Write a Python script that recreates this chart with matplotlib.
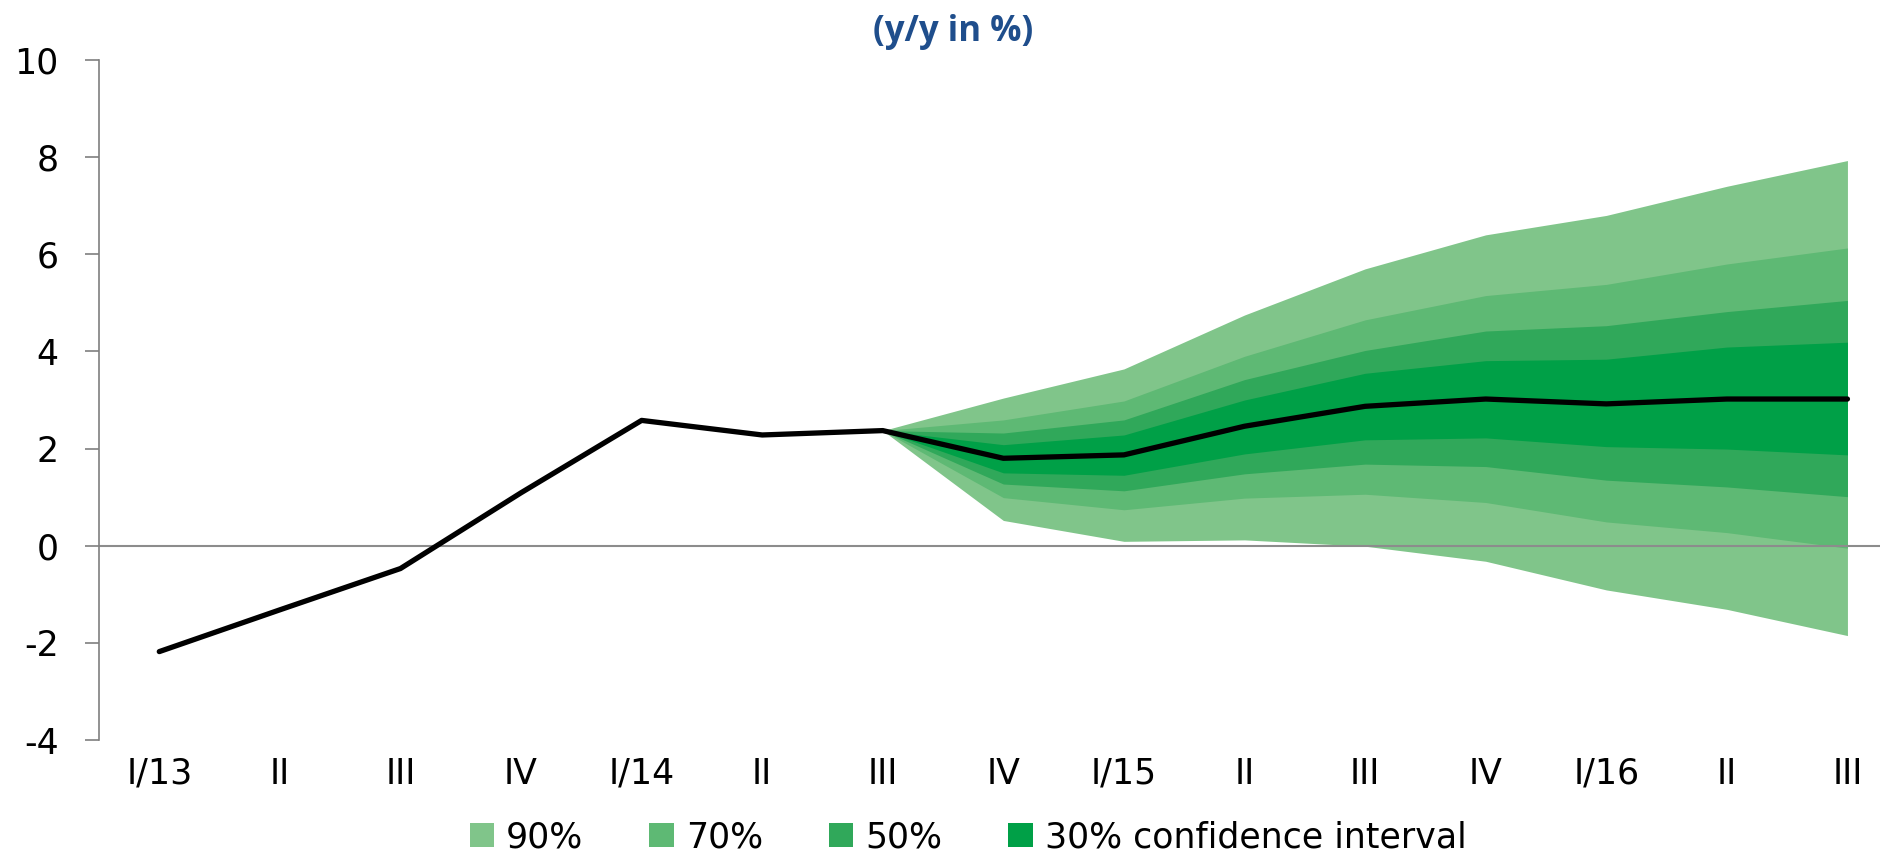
import matplotlib
matplotlib.use('Agg')
import matplotlib.pyplot as plt
import numpy as np
from matplotlib.patches import Patch

plt.rcParams['font.family'] = ['DejaVu Sans']
plt.rcParams['axes.unicode_minus'] = False

# quarters
labels = ['I/13', 'II', 'III', 'IV', 'I/14', 'II', 'III', 'IV',
          'I/15', 'II', 'III', 'IV', 'I/16', 'II', 'III']

# actual + central projection (y/y %)
central = [-2.18, -1.32, -0.47, 1.09, 2.58, 2.28, 2.37, 1.80,
           1.87, 2.46, 2.87, 3.02, 2.92, 3.02, 3.02]

# fan starts at III/14 (index 6)
fan_start = 6
up90 = [2.37, 3.04, 3.64, 4.75, 5.70, 6.40, 6.80, 7.40, 7.93]
up70 = [2.37, 2.59, 2.98, 3.90, 4.65, 5.15, 5.38, 5.80, 6.13]
up50 = [2.37, 2.32, 2.59, 3.42, 4.02, 4.42, 4.53, 4.82, 5.05]
up30 = [2.37, 2.08, 2.28, 3.00, 3.55, 3.81, 3.84, 4.09, 4.19]
lo30 = [2.37, 1.50, 1.45, 1.89, 2.18, 2.22, 2.04, 1.99, 1.87]
lo50 = [2.37, 1.27, 1.13, 1.48, 1.68, 1.63, 1.35, 1.21, 1.01]
lo70 = [2.37, 0.99, 0.74, 0.98, 1.06, 0.89, 0.49, 0.27, -0.05]
lo90 = [2.37, 0.52, 0.09, 0.12, -0.01, -0.32, -0.91, -1.31, -1.85]

band_names = ['90%', '70%', '50%', '30% confidence interval']
band_colors = ['#80C58A', '#5EB974', '#30A85A', '#00A047']

fig = plt.figure(figsize=(18.8, 8.57), dpi=100)
ax = fig.add_axes([99/1880, 1-740/857, 1-99/1880, (740-60)/857])

x = np.arange(len(labels))
xf = x[fan_start:]

bands = [(lo90, up90), (lo70, up70), (lo50, up50), (lo30, up30)]
for (lo, up), c in zip(bands, band_colors):
    ax.fill_between(xf, lo, up, color=c, linewidth=0, zorder=1)

ax.axhline(0, color='#8c8c8c', linewidth=1.5, zorder=2)
ax.plot(x, central, color='black', linewidth=3.8, solid_capstyle='round', zorder=3)

ax.set_xlim(-0.5, 14.27)
ax.set_ylim(-4, 10)
ax.set_yticks(np.arange(-4, 11, 2))
ax.set_xticks(x)
ax.set_xticklabels(labels)

for s in ['top', 'right', 'bottom']:
    ax.spines[s].set_visible(False)
ax.spines['left'].set_color('#7f7f7f')
ax.spines['left'].set_linewidth(1.2)

ax.tick_params(axis='y', direction='out', length=10, width=1.2, color='#7f7f7f',
               pad=19, labelsize=25)
ax.tick_params(axis='x', length=0, pad=12, labelsize=25)

fig.text(953/1880, 1-32/857, '(y/y in %)', ha='center', va='center',
         fontsize=25, fontweight='bold', color='#1F4E8C',
         family=['Open Sans', 'DejaVu Sans'])

handles = [Patch(facecolor=c, edgecolor='none') for c in band_colors]
fig.legend(handles, band_names, loc='center', ncol=4,
           bbox_to_anchor=(968/1880, 1-837/857), frameon=False,
           fontsize=25, handlelength=0.7, handleheight=0.7,
           handletextpad=0.35, columnspacing=1.9,
           borderpad=0.1)

fig.savefig('out.png', dpi=100)
